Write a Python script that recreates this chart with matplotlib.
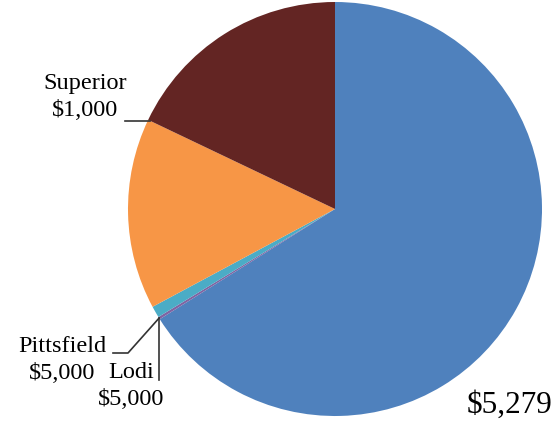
#!/usr/bin/env python3

import numpy as np
import matplotlib
matplotlib.use("Agg")
import matplotlib.pyplot as plt

# slices, clockwise from 12 o'clock
names = ["Main", "Lodi", "Pittsfield", "Other", "Superior"]
shares = [66.0, 0.2, 0.9, 14.9, 17.9]
colors = ["#4F81BD", "#8064A2", "#4BACC6", "#F79646", "#632523"]

# label texts as printed on the chart
superior_label = "Superior\n$1,000"
pittsfield_label = "Pittsfield\n$5,000"
lodi_label = "Lodi\n$5,000"
main_label = "$5,279"


def edge_point(cx, cy, r, ang):
    a = np.deg2rad(ang)
    return cx + r * np.cos(a), cy + r * np.sin(a)


def main():
    fig = plt.figure(figsize=(5.54, 4.24), dpi=100)
    ax = fig.add_axes([0, 0, 1, 1])

    cx, cy, r = 335, 215, 207
    wedges, _ = ax.pie(shares, colors=colors, startangle=90, counterclock=False,
                       center=(cx, cy), radius=r, frame=True,
                       wedgeprops=dict(linewidth=0))
    ax.set_xlim(0, 554)
    ax.set_ylim(0, 424)
    ax.set_aspect("equal")
    ax.axis("off")

    font = dict(family="Liberation Serif", color="black")
    lc = "#333333"

    # Superior label, leader to the edge between Superior and orange
    sup = wedges[4]
    sx, sy = edge_point(cx, cy, r - 2, max(sup.theta1, sup.theta2))
    ax.text(85, 327, superior_label, ha="center", va="center",
            fontsize=17.5, linespacing=1.4, **font)
    ax.plot([125, sx], [sy, sy], color=lc, lw=1.2)

    # Pittsfield / Lodi share one anchor point at the Lodi slice
    lodi = wedges[1]
    px, py = edge_point(cx, cy, r, (lodi.theta1 + lodi.theta2) / 2)
    ax.text(62, 64, pittsfield_label, ha="center", va="center",
            fontsize=17.5, linespacing=1.35, **font)
    ax.plot([113, 128, px], [71, 71, py], color=lc, lw=1.2)

    ax.text(131, 38, lodi_label, ha="center", va="center",
            fontsize=17.5, linespacing=1.4, **font)
    ax.plot([px, px], [py, 44], color=lc, lw=1.2)

    ax.text(510, 19, main_label, ha="center", va="center", fontsize=22.5, **font)

    fig.savefig("out.png", dpi=100)


if __name__ == "__main__":
    main()
